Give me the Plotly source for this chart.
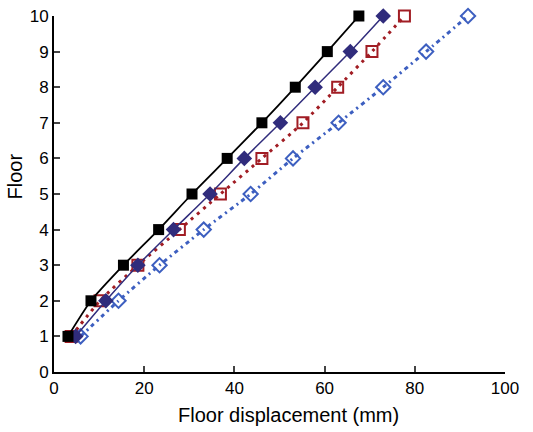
import plotly.graph_objects as go

floors = [1, 2, 3, 4, 5, 6, 7, 8, 9, 10]
s_black = [3.1, 8.2, 15.4, 23.2, 30.6, 38.4, 46.1, 53.5, 60.6, 67.6]
s_navy = [4.8, 11.5, 18.6, 26.5, 34.6, 42.2, 50.2, 57.9, 65.7, 73.0]
s_red = [3.8, 10.2, 18.6, 27.8, 36.9, 46.1, 55.2, 62.9, 70.5, 77.7]
s_blue = [5.9, 14.3, 23.4, 33.2, 43.6, 53.0, 63.1, 73.0, 82.5, 91.8]
x_ticks = [0, 20, 40, 60, 80, 100]
y_ticks = [0, 1, 2, 3, 4, 5, 6, 7, 8, 9, 10]

fig = go.Figure()
fig.add_trace(go.Scatter(x=s_blue, y=floors, mode="lines+markers", cliponaxis=False,
    line=dict(color="#3d5fc0", width=3, dash="4px,4px,2px,4px", shape="spline", smoothing=0.6),
    marker=dict(symbol="diamond-open", size=11, color="#3d5fc0", line=dict(width=2, color="#3d5fc0"))))
fig.add_trace(go.Scatter(x=s_red, y=floors, mode="lines+markers", cliponaxis=False,
    line=dict(color="#a11d24", width=3, dash="3px,5px", shape="spline", smoothing=0.6),
    marker=dict(symbol="square-open", size=11, color="#a11d24", line=dict(width=2, color="#a11d24"))))
fig.add_trace(go.Scatter(x=s_navy, y=floors, mode="lines+markers", cliponaxis=False,
    line=dict(color="#302c7c", width=1.5, shape="spline", smoothing=0.6),
    marker=dict(symbol="diamond", size=12, color="#302c7c")))
fig.add_trace(go.Scatter(x=s_black, y=floors, mode="lines+markers", cliponaxis=False,
    line=dict(color="#000000", width=1.8, shape="spline", smoothing=0.6),
    marker=dict(symbol="square", size=11, color="#000000")))

fig.update_layout(
    width=533, height=432,
    margin=dict(l=54, r=28, t=16, b=60),
    paper_bgcolor="white", plot_bgcolor="white",
    showlegend=False,
    hovermode=False,
    font=dict(family="Liberation Sans, Arial, sans-serif", size=17, color="black"),
    annotations=[
        dict(text="Floor displacement (mm)", xref="paper", yref="paper", x=0.52, y=-0.121,
             xanchor="center", yanchor="middle", showarrow=False,
             font=dict(family="Liberation Sans, Arial, sans-serif", size=20, color="black")),
        dict(text="Floor", xref="paper", yref="paper", x=-0.0876, y=0.5506, textangle=-90,
             xanchor="center", yanchor="middle", showarrow=False,
             font=dict(family="Liberation Sans, Arial, sans-serif", size=20, color="black")),
    ],
)
fig.update_xaxes(range=[0, 100], tickvals=x_ticks, ticks="inside", ticklen=6, tickwidth=1.5,
    showline=True, linewidth=2, linecolor="black", showgrid=False, zeroline=False,
    automargin=False, tickfont=dict(size=17))
fig.update_yaxes(range=[0, 10], tickvals=y_ticks, ticks="inside", ticklen=6, tickwidth=1.5,
    showline=True, linewidth=2, linecolor="black", showgrid=False, zeroline=False,
    automargin=False, tickfont=dict(size=17))

fig.write_html("out.html", config={"displayModeBar": False},
               post_script="document.body.style.margin='0px';")
